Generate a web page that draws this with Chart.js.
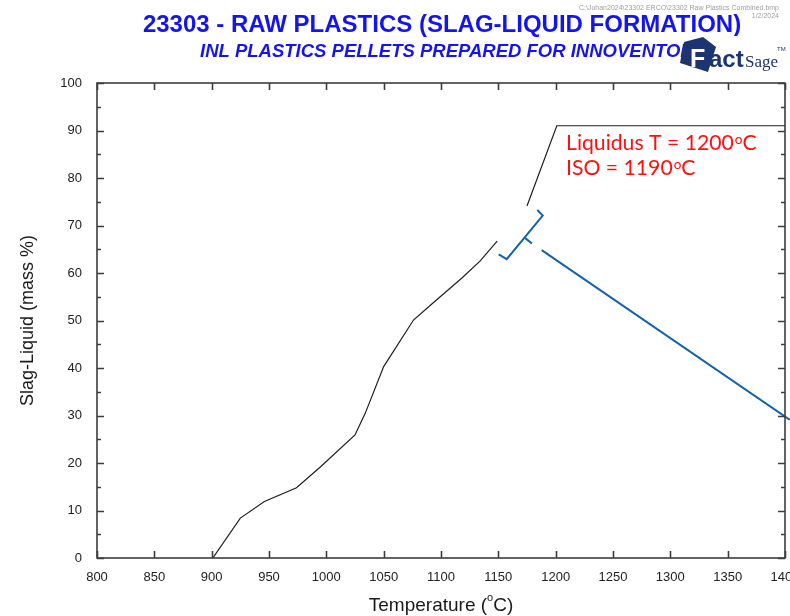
<!DOCTYPE html>
<html>
<head>
<meta charset="utf-8">
<title>23303 - Raw Plastics (Slag-Liquid Formation)</title>
<script src="https://cdn.jsdelivr.net/npm/chart.js@4.4.1/dist/chart.umd.min.js"></script>
<style>
  html, body { margin: 0; padding: 0; background: #fff; }
  #wrap { width: 790px; height: 616px; }
</style>
</head>
<body>
<div id="wrap"><canvas id="myChart" width="790" height="616"></canvas></div>
<script>
// slag-liquid curve below the marked gap
const tempLow = [901, 925, 946, 974, 995, 1025, 1034, 1050, 1076, 1093, 1118, 1134, 1149];
const liqLow = [0, 8.4, 11.9, 14.8, 19.2, 25.9, 30.5, 40.3, 50.1, 53.7, 58.9, 62.5, 66.7];

// curve above the gap up to the liquidus plateau
const tempHigh = [1175, 1201, 1400];
const liqHigh = [74.1, 91.0, 91.0];

// hand-drawn bracket marking the liquidus / ISO point
const bracketT = [1184.0, 1188.7, 1157.3, 1150.3];
const bracketL = [73.3, 72.1, 62.9, 63.9];
const notchT = [1173.2, 1179.3];
const notchL = [67.4, 66.2];
const pointerT = [1187.8, 1404];
const pointerL = [64.8, 29.1];

const xTicks = { min: 800, max: 1400, step: 50 };
const yTicks = { min: 0, max: 100, step: 10, minor: 5 };

const liquidusTemp = 1200;
const isoTemp = 1190;

const toPoints = (xs, ys) => xs.map((x, i) => ({ x: x, y: ys[i] }));

const AXIS = "#3c3c3c";
const BLUE = "#1462ab";
const SANS = "'Liberation Sans', Arial";

// frame and inward tick marks on all four sides
const framePlugin = {
    id: "frame",
    afterDatasetsDraw(chart) {
        const { ctx, chartArea: a, scales } = chart;
        const xs = scales.x, ys = scales.y;
        ctx.save();
        ctx.strokeStyle = AXIS;
        ctx.lineWidth = 1.6;
        ctx.strokeRect(a.left, a.top, a.right - a.left, a.bottom - a.top);
        ctx.beginPath();
        for (let v = xTicks.min; v <= xTicks.max; v += xTicks.step) {
            const px = Math.round(xs.getPixelForValue(v)) + 0.5;
            ctx.moveTo(px, a.bottom);
            ctx.lineTo(px, a.bottom - 7);
            ctx.moveTo(px, a.top);
            ctx.lineTo(px, a.top + 7);
        }
        for (let v = yTicks.min; v <= yTicks.max; v += yTicks.minor) {
            const py = Math.round(ys.getPixelForValue(v)) + 0.5;
            const len = v % yTicks.step === 0 ? 7 : 4;
            ctx.moveTo(a.left, py);
            ctx.lineTo(a.left + len, py);
            ctx.moveTo(a.right, py);
            ctx.lineTo(a.right - len, py);
        }
        ctx.stroke();
        ctx.restore();
    }
};

// text with a raised small "o" before the unit letter
function degText(ctx, parts, x, y, size, supSize, rise) {
    ctx.font = size + "px " + parts.family;
    ctx.fillText(parts.before, x, y);
    x += ctx.measureText(parts.before).width;
    ctx.font = supSize + "px " + parts.family;
    ctx.fillText("o", x + 1, y - rise);
    x += ctx.measureText("o").width + 1;
    ctx.font = size + "px " + parts.family;
    ctx.fillText(parts.after, x, y);
}

const labelsPlugin = {
    id: "labels",
    afterDraw(chart) {
        const { ctx, chartArea: a } = chart;
        ctx.save();

        // file path and date
        ctx.fillStyle = "#a0a0a0";
        ctx.font = "7px " + SANS;
        ctx.textAlign = "right";
        ctx.textBaseline = "alphabetic";
        ctx.fillText("C:\\Johan2024\\23302 ERCO\\23302 Raw Plastics Combined.bmp", 779, 10);
        ctx.fillText("1/2/2024", 779, 18);

        // titles
        ctx.fillStyle = "#1414f0";
        ctx.textAlign = "center";
        ctx.font = "bold 24px " + SANS;
        ctx.fillText("23303 - RAW PLASTICS (SLAG-LIQUID FORMATION)", 442, 32);
        ctx.textAlign = "left";
        ctx.font = "italic bold 18.5px " + SANS;
        ctx.fillText("INL PLASTICS PELLETS PREPARED FOR INNOVENTON", 200, 57);

        // FactSage logo
        ctx.fillStyle = "#fff";
        ctx.fillRect(686, 36, 104, 38);
        ctx.fillStyle = "#1c3470";
        ctx.beginPath();
        ctx.moveTo(680, 63);
        ctx.lineTo(684, 42);
        ctx.lineTo(703, 37);
        ctx.lineTo(716, 47);
        ctx.lineTo(708, 72);
        ctx.closePath();
        ctx.fill();
        ctx.fillStyle = "#fff";
        ctx.font = "bold 25px " + SANS;
        ctx.fillText("F", 690, 67);
        ctx.fillStyle = "#1c3470";
        ctx.font = "bold 24px " + SANS;
        ctx.fillText("act", 709, 67);
        ctx.font = "17px 'Liberation Serif', serif";
        ctx.fillText("Sage", 745, 67);
        ctx.font = "6px " + SANS;
        ctx.fillText("TM", 777, 51);

        // axis titles
        ctx.fillStyle = "#1a1a1a";
        ctx.textAlign = "left";
        ctx.textBaseline = "alphabetic";
        ctx.font = "19px " + SANS;
        const w1 = ctx.measureText("Temperature (").width;
        ctx.font = "11px " + SANS;
        const w2 = ctx.measureText("o").width;
        ctx.font = "19px " + SANS;
        const w3 = ctx.measureText("C)").width;
        const cx = (a.left + a.right) / 2;
        const x0 = cx - (w1 + w2 + w3) / 2;
        ctx.fillText("Temperature (", x0, 611);
        ctx.font = "11px " + SANS;
        ctx.fillText("o", x0 + w1, 601);
        ctx.font = "19px " + SANS;
        ctx.fillText("C)", x0 + w1 + w2, 611);

        ctx.save();
        ctx.translate(33, (a.top + a.bottom) / 2);
        ctx.rotate(-Math.PI / 2);
        ctx.textAlign = "center";
        ctx.font = "18px " + SANS;
        ctx.fillText("Slag-Liquid (mass %)", 0, 0);
        ctx.restore();

        // liquidus annotation
        ctx.fillStyle = "#ff1010";
        const ann = "Lato, 'Noto Sans', sans-serif";
        degText(ctx, { family: ann, before: "Liquidus T = " + liquidusTemp, after: "C" }, 566, 150, 21.2, 13.5, 6.5);
        degText(ctx, { family: ann, before: "ISO = " + isoTemp, after: "C" }, 566, 175, 21.2, 13.5, 6.5);

        ctx.restore();
    }
};

new Chart("myChart", {
    type: "line",
    data: {
        datasets: [
            {
                data: toPoints(tempLow, liqLow),
                borderColor: "#1e1e1e",
                borderWidth: 1.2,
            },
            {
                data: toPoints(tempHigh, liqHigh),
                borderColor: "#1e1e1e",
                borderWidth: 1.2,
            },
            {
                data: toPoints(bracketT, bracketL),
                borderColor: BLUE,
                borderWidth: 2,
            },
            {
                data: toPoints(notchT, notchL),
                borderColor: BLUE,
                borderWidth: 2,
            },
            {
                data: toPoints(pointerT, pointerL),
                borderColor: BLUE,
                borderWidth: 2,
                clip: false,
            },
        ],
    },
    options: {
        responsive: false,
        animation: false,
        devicePixelRatio: 1,
        layout: { padding: { top: 83, right: 5, bottom: 0, left: 0 } },
        elements: {
            point: { radius: 0 },
            line: { tension: 0, fill: false },
        },
        plugins: {
            legend: { display: false },
            tooltip: { enabled: false },
        },
        scales: {
            x: {
                type: "linear",
                min: xTicks.min,
                max: xTicks.max,
                grid: { display: false, drawTicks: false },
                border: { display: false },
                ticks: {
                    stepSize: xTicks.step,
                    padding: 12,
                    color: "#222",
                    font: { family: SANS, size: 13 },
                    callback: (v) => String(v),
                },
                afterFit(scale) {
                    scale.height = 58;
                    scale.paddingLeft = 0;
                    scale.paddingRight = 0;
                },
            },
            y: {
                min: yTicks.min,
                max: yTicks.max,
                grid: { display: false, drawTicks: false },
                border: { display: false },
                ticks: {
                    stepSize: yTicks.step,
                    padding: 15,
                    color: "#222",
                    font: { family: SANS, size: 13 },
                },
                afterFit(scale) {
                    scale.width = 97;
                },
            },
        },
    },
    plugins: [framePlugin, labelsPlugin],
});
</script>
</body>
</html>
